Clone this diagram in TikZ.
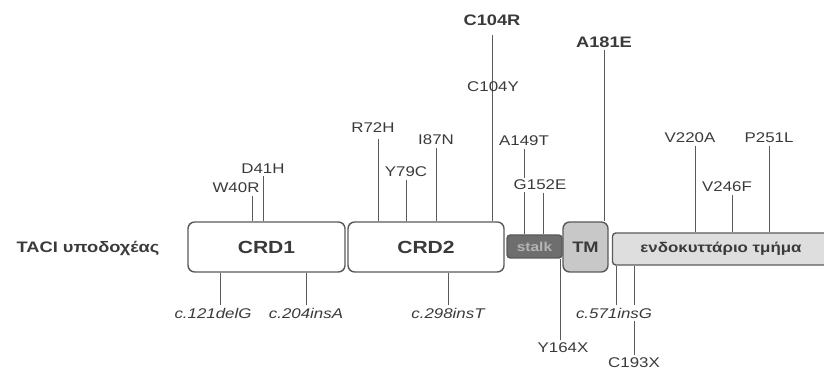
\documentclass[tikz,border=0pt]{standalone}
\usepackage{fontspec}
\setmainfont{Liberation Sans}[FakeStretch=1.2]
\usetikzlibrary{positioning}
\definecolor{linegray}{HTML}{5A5A5A}
\definecolor{textgray}{HTML}{3A3A3A}
\definecolor{stalkfill}{HTML}{6E6E6E}
\definecolor{stalktext}{HTML}{B4B4B4}
\definecolor{tmfill}{HTML}{C8C8C8}
\definecolor{intrafill}{HTML}{DEDEDE}
\tikzstyle{segbox} = [rectangle, rounded corners=2mm, draw=linegray, line width=1.2pt, fill=white, text=textgray, inner sep=0pt, font=\fontsize{15}{17}\selectfont\bfseries]
\tikzstyle{mut} = [text=textgray, inner sep=2pt, font=\fontsize{12}{14}\selectfont]
\tikzstyle{mutbold} = [mut, font=\fontsize{13}{15}\selectfont\bfseries]
\tikzstyle{cdna} = [mut, font=\fontsize{12}{14}\selectfont\itshape]
\tikzstyle{stem} = [draw=linegray, line width=0.8pt]

\begin{document}
\begin{tikzpicture}[x=0.3mm, y=-0.3mm]
            \useasboundingbox (0,0) rectangle (824,373);

            % domains of the receptor
            \node [font=\fontsize{13}{15}\selectfont\bfseries, text=textgray] at (88,248) (taci) {TACI υποδοχέας};
            \node [segbox, minimum width=47.1mm, minimum height=15mm] at (266.5,247) (crd1) {CRD1};
            \node [segbox, minimum width=46.8mm, minimum height=15mm] at (426,247) (crd2) {CRD2};
            \node [segbox, rounded corners=1mm, fill=stalkfill, text=stalktext, minimum width=16.5mm, minimum height=6.9mm, font=\fontsize{11}{13}\selectfont\bfseries] at (534.5,246.5) (stalk) {stalk};
            \node [segbox, fill=tmfill, minimum width=13.5mm, minimum height=15mm, font=\fontsize{13}{15}\selectfont\bfseries] at (585.5,247) (tm) {TM};
            \node [segbox, rounded corners=1mm, fill=intrafill, minimum width=65.1mm, minimum height=9.6mm, font=\fontsize{12}{14}\selectfont\bfseries] at (721,249) (intra) {ενδοκυττάριο τμήμα};

            % mutations above
            \node [mut] at (236,188) (w40r) {W40R};
            \node [mut] at (263,169) (d41h) {D41H};
            \node [mut] at (373,128) (r72h) {R72H};
            \node [mut] at (406,172) (y79c) {Y79C};
            \node [mut] at (436,140) (i87n) {I87N};
            \node [mutbold] at (492,20) (c104r) {C104R};
            \node [mutbold] at (604,42) (a181e) {A181E};
            \node [mut] at (524,141) (a149t) {A149T};
            \node [mut] at (690,138) (v220a) {V220A};
            \node [mut] at (727,187) (v246f) {V246F};
            \node [mut] at (769,138) (p251l) {P251L};

            \draw [stem] ([xshift=4.8mm]w40r.south) coordinate (w40rtop) -- (w40rtop |- crd1.north);
            \draw [stem] (d41h.south) -- (d41h.south |- crd1.north);
            \draw [stem] ([xshift=1.5mm,yshift=-1mm]r72h.south) coordinate (r72htop) -- (r72htop |- crd2.north);
            \draw [stem] (y79c.south) -- (y79c.south |- crd2.north);
            \draw [stem] (i87n.south) -- (i87n.south |- crd2.north);
            \draw [stem] ([yshift=-2mm]c104r.south) coordinate (c104rtop) -- (c104rtop |- crd2.north);
            \draw [stem] (a181e.south) -- (a181e.south |- tm.north);
            \draw [stem] (a149t.south) -- (a149t.south |- stalk.north);
            \draw [stem] ([xshift=1.5mm]v220a.south) coordinate (v220atop) -- (v220atop |- intra.north);
            \draw [stem] ([xshift=1.5mm]v246f.south) coordinate (v246ftop) -- (v246ftop |- intra.north);
            \draw [stem] (p251l.south) -- (p251l.south |- intra.north);

            \node [mut] at (493,87) (c104y) {C104Y};
            \node [mut, fill=white] at (540,185) (g152e) {G152E};
            \draw [stem] ([xshift=0.9mm]g152e.south) coordinate (g152etop) -- (g152etop |- stalk.north);

            % mutations below
            \node [cdna] at (213,313) (c121) {c.121delG};
            \node [cdna] at (306,313) (c204) {c.204insA};
            \node [cdna] at (448,313) (c298) {c.298insT};
            \node [mut] at (563,348) (y164x) {Y164X};
            \node [mut] at (634,363) (c193x) {C193X};

            \draw [stem] ([xshift=2.1mm]c121.north) coordinate (c121top) -- (c121top |- crd1.south);
            \draw [stem] (c204.north) -- (c204.north |- crd1.south);
            \draw [stem] (c298.north) -- (c298.north |- crd2.south);
            \draw [stem] ([xshift=-0.9mm]y164x.north) coordinate (y164xtop) -- (y164xtop |- stalk.south);
            \draw [stem] (c193x.north) -- (c193x.north |- intra.south);

            \node [cdna, fill=white] at (614,313) (c571) {c.571insG};
            \draw [stem] ([xshift=0.6mm]c571.north) coordinate (c571top) -- (c571top |- intra.south);
\end{tikzpicture}
\end{document}
